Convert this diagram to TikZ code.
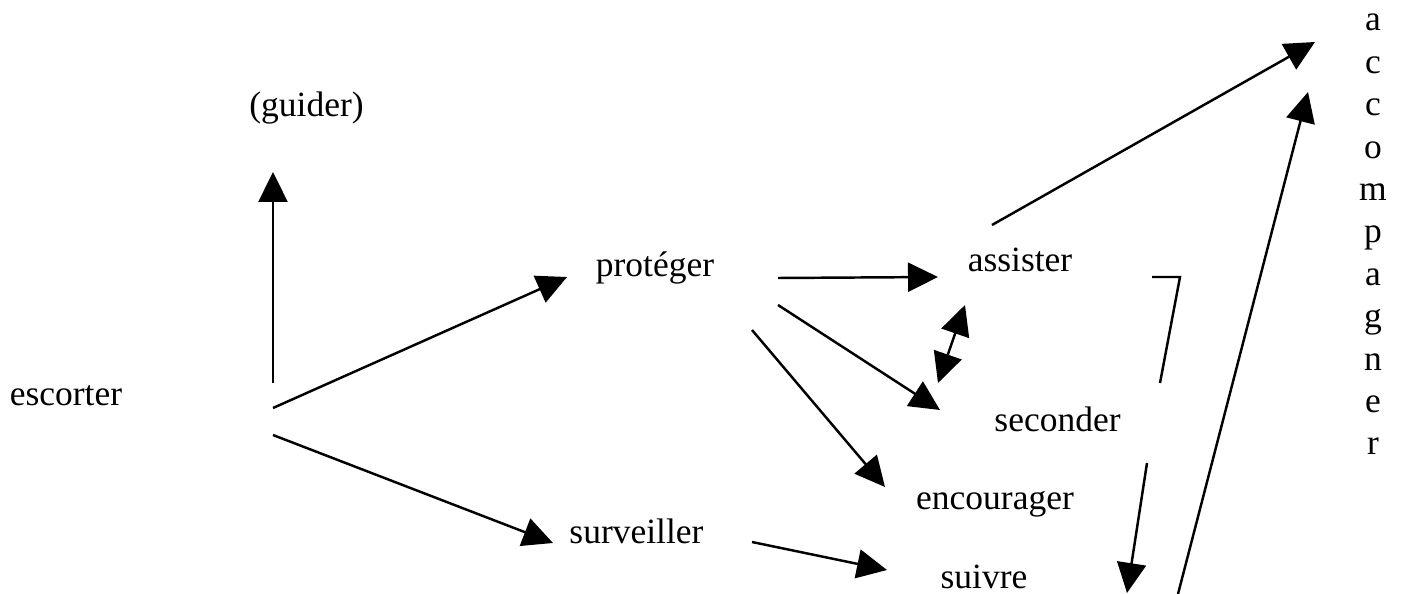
\documentclass[tikz,border=0pt]{standalone}
\usepackage{fontspec}
\setmainfont{Liberation Serif}
\usepackage{tikz}
\usetikzlibrary{arrows.meta,calc}
\newcommand{\tsz}{\fontsize{20.2}{24}\selectfont}

\begin{document}
\begin{tikzpicture}[x=0.02cm,y=-0.02cm,
    lbl/.style={inner sep=0pt,anchor=base,font=\tsz},
    fl/.style={-{Triangle[length=0.6cm,width=0.58cm]},line width=1.4pt},
    dfl/.style={{Triangle[length=0.6cm,width=0.58cm]}-{Triangle[length=0.6cm,width=0.58cm]},line width=1.4pt}]
  \useasboundingbox (0,0) rectangle (1407,594);
  \node[lbl] (G) at (306.5,117) {(guider)};
  \node[lbl] (E) at (66,406) {escorter};
  \node[lbl] (P) at (655,277) {protéger};
  \node[lbl] (S) at (636.5,543) {surveiller};
  \node[lbl] (As) at (1020,272) {assister};
  \node[lbl] (Sc) at (1057.5,432) {seconder};
  \node[lbl] (En) at (995,510) {encourager};
  \node[lbl] (Su) at (984,588) {suivre};
  \foreach \l [count=\i] in {a,c,c,o,m,p,a,g,n,e,r}
    \node[lbl] (A\i) at (1373,{31+42.4*(\i-1)}) {\l};
  \draw[fl] ([shift={(207,-23)}]E.base) -- ([shift={(-33.5,55)}]G.base);
  \draw[fl] ([shift={(207,2)}]E.base) -- ([shift={(-88,0)}]P.base);
  \draw[fl] ([shift={(207,29)}]E.base) -- ([shift={(-83.5,0)}]S.base);
  \draw[fl] ([shift={(123,1)}]P.base) -- ([shift={(-82,5)}]As.base);
  \draw[fl] ([shift={(123,28)}]P.base) -- ([shift={(-117.5,-22)}]Sc.base);
  \draw[fl] ([shift={(97,53)}]P.base) -- ([shift={(-110,-23)}]En.base);
  \draw[fl] ([shift={(115.5,-1)}]S.base) -- ([shift={(-97,-18)}]Su.base);
  \draw[dfl] ([shift={(-55,33)}]As.base) -- ([shift={(-119.5,-49)}]Sc.base);
  \draw[fl] ([shift={(-28,-47)}]As.base) -- ([shift={(-58,11)}]A1.base);
  \draw[fl] ([shift={(194,6)}]Su.base) -- ([shift={(-65,18.6)}]A2.base);
  \draw[line width=1.4pt] ([shift={(132,5)}]As.base) -- ([shift={(160,5)}]As.base)
    -- ([shift={(102.5,-49)}]Sc.base);
  \draw[fl] ([shift={(89.5,31)}]Sc.base) -- ([shift={(143,5)}]Su.base);
\end{tikzpicture}
\end{document}
